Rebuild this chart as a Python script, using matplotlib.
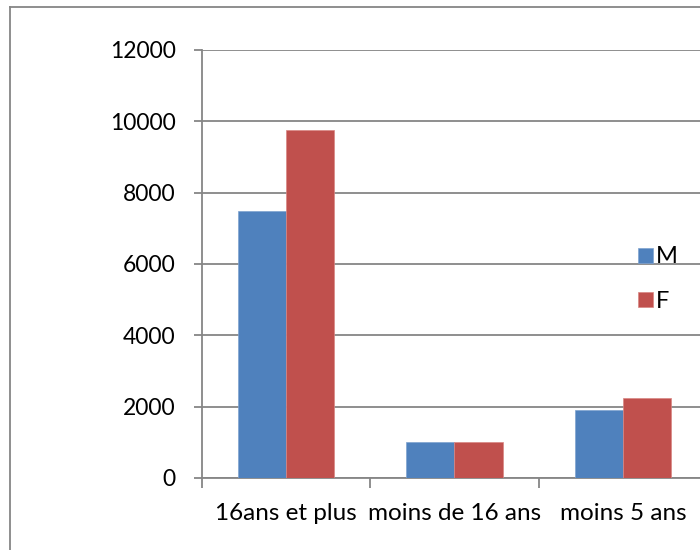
import numpy as np
import matplotlib.pyplot as plt
from matplotlib.lines import Line2D

categories = ["16ans et plus", "moins de 16 ans", "moins 5 ans"]
m_vals = [7480, 1000, 1900]
f_vals = [9750, 1020, 2230]
series = ["M", "F"]
yticks = [0, 2000, 4000, 6000, 8000, 10000, 12000]

blue = "#4F81BD"
red = "#C0504D"
grey = "#868686"

plt.rcParams['font.family'] = ['Lato', 'DejaVu Sans']

fig = plt.figure(figsize=(7, 5.5), dpi=100)
ax = fig.add_axes([202 / 700, 1 - 478 / 550, 505 / 700, 428 / 550])

x = np.arange(len(categories))
w = 1 / 3.5
ax.bar(x - w / 2, m_vals, w, color=blue, edgecolor="#7FA3D0", linewidth=0.5, label=series[0], zorder=3)
ax.bar(x + w / 2, f_vals, w, color=red, edgecolor="#D98683", linewidth=0.5, label=series[1], zorder=3)

ax.set_xlim(-0.5, 2.5)
ax.set_ylim(0, 12000)
ax.set_yticks(yticks)
ax.set_yticklabels([str(v) for v in yticks], fontsize=16.5)
ax.yaxis.grid(True, color=grey, linewidth=1.3, zorder=0)

# category labels centred, tick marks on boundaries
ax.set_xticks(x)
ax.set_xticklabels(categories, fontsize=17.5)
ax.tick_params(axis='x', length=0, pad=18)
ax.set_xticks(np.arange(-0.5, 3, 1), minor=True)
ax.tick_params(axis='x', which='minor', length=7, width=1.3, color=grey, direction='out')
ax.tick_params(axis='y', length=6, width=1.3, color=grey, pad=13)

for s in ["top", "right"]:
    ax.spines[s].set_visible(False)
for s in ["left", "bottom"]:
    ax.spines[s].set_color(grey)
    ax.spines[s].set_linewidth(1.3)

fig.legend(loc="upper left", bbox_to_anchor=(629 / 700, 1 - 237 / 550), frameon=False,
           fontsize=17, handlelength=0.6, handleheight=0.6, handletextpad=0.15,
           labelspacing=1.0, borderaxespad=0)

# chart border (top and left visible)
fig.add_artist(Line2D([10 / 700, 10 / 700], [0, 1 - 7 / 550], transform=fig.transFigure, color=grey, lw=1.3))
fig.add_artist(Line2D([10 / 700, 1], [1 - 7 / 550, 1 - 7 / 550], transform=fig.transFigure, color=grey, lw=1.3))

fig.savefig("out.png", dpi=100)
